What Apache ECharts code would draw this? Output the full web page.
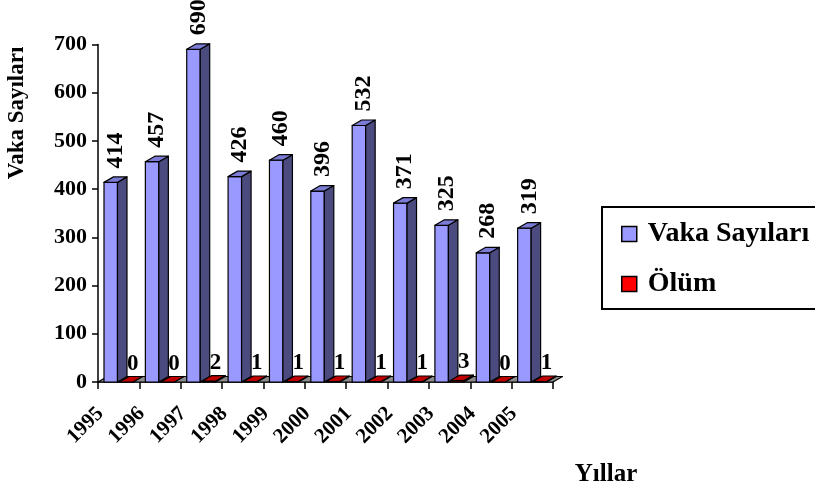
<!DOCTYPE html>
<html>
<head>
<meta charset="utf-8">
<script src="https://cdn.jsdelivr.net/npm/echarts@6/dist/echarts.min.js"></script>
<style>
  html, body { margin: 0; padding: 0; background: #ffffff; }
  #chart { width: 815px; height: 488px; }
</style>
</head>
<body>
<div id="chart"></div>
<script>
// Yearly case counts and deaths
const years = ['1995', '1996', '1997', '1998', '1999', '2000', '2001', '2002', '2003', '2004', '2005'];
const vakaSayilari = [414, 457, 690, 426, 460, 396, 532, 371, 325, 268, 319];
const olum = [0, 0, 2, 1, 1, 1, 1, 1, 3, 0, 1];
const yMax = 700;
const yStep = 100;

const FONT = '"Liberation Serif", "Times New Roman", serif';
// pseudo-3D depth offset for columns and floor (pixels)
const DX = 9.5;
const DY = -5.5;
const EDGE = { stroke: '#000000', lineWidth: 1.2, lineJoin: 'round' };

function prism(api, idx, val, startFrac, widthFrac, colors) {
  const band = api.size([1, 0])[0];
  const base = api.coord([idx, 0]);
  const top = api.coord([idx, val]);
  const x0 = base[0] - band / 2 + band * startFrac;
  const x1 = x0 + band * widthFrac;
  const yb = base[1];
  const yt = top[1];
  return {
    x0, x1, yt,
    shapes: [
      { type: 'polygon', shape: { points: [[x0, yb], [x1, yb], [x1, yt], [x0, yt]] },
        style: Object.assign({ fill: colors.front }, EDGE) },
      { type: 'polygon', shape: { points: [[x1, yb], [x1 + DX, yb + DY], [x1 + DX, yt + DY], [x1, yt]] },
        style: Object.assign({ fill: colors.side }, EDGE) },
      { type: 'polygon', shape: { points: [[x0, yt], [x1, yt], [x1 + DX, yt + DY], [x0 + DX, yt + DY]] },
        style: Object.assign({ fill: colors.top }, EDGE) }
    ]
  };
}

const chart = echarts.init(document.getElementById('chart'), null, { renderer: 'canvas' });

const option = {
  backgroundColor: '#ffffff',
  animation: false,
  textStyle: { fontFamily: FONT },
  grid: { left: 98, right: 262, top: 44.5, bottom: 106, containLabel: false },
  legend: {
    orient: 'vertical',
    left: 602,
    top: 207,
    padding: [13, 4, 11, 19],
    itemGap: 22,
    itemWidth: 15,
    itemHeight: 15,
    borderWidth: 0,
    selectedMode: false,
    textStyle: {
      fontFamily: FONT, fontSize: 28, fontWeight: 'bold', color: '#000000',
      lineHeight: 28, padding: [0, 0, 0, 6]
    },
    data: [
      { name: 'Vaka Sayıları', icon: 'rect', itemStyle: { color: '#9999FF', borderColor: '#000000', borderWidth: 1.5 } },
      { name: 'Ölüm', icon: 'rect', itemStyle: { color: '#FF0000', borderColor: '#000000', borderWidth: 1.5 } }
    ]
  },
  xAxis: {
    type: 'category',
    data: years,
    boundaryGap: true,
    axisLine: { show: true, lineStyle: { color: '#000000', width: 1.5 } },
    axisTick: { show: true, length: 7, lineStyle: { color: '#000000', width: 1.5 } },
    axisLabel: {
      interval: 0, rotate: 45, margin: 10, padding: [0, 26, 0, 0],
      fontFamily: FONT, fontSize: 21, fontWeight: 'bold', color: '#000000'
    },
    splitLine: { show: false }
  },
  yAxis: {
    type: 'value',
    min: 0,
    max: yMax,
    interval: yStep,
    axisLine: { show: true, lineStyle: { color: '#000000', width: 1.5 } },
    axisTick: { show: true, length: 6, lineStyle: { color: '#000000', width: 1.5 } },
    axisLabel: { margin: 11, fontFamily: FONT, fontSize: 22, fontWeight: 'bold', color: '#000000' },
    splitLine: { show: false }
  },
  graphic: [
    {
      // legend frame, running past the right edge of the canvas
      type: 'rect', z: 0,
      shape: { x: 602, y: 207, width: 240, height: 102 },
      style: { fill: '#ffffff', stroke: '#000000', lineWidth: 2 }
    },
    {
      type: 'text', x: 17, y: 113, rotation: Math.PI / 2,
      style: { text: 'Vaka Sayıları', font: 'bold 23px ' + FONT, fill: '#000000', align: 'center', verticalAlign: 'middle' }
    },
    {
      type: 'text', x: 606, y: 475,
      style: { text: 'Yıllar', font: 'bold 25px ' + FONT, fill: '#000000', align: 'center', verticalAlign: 'middle' }
    }
  ],
  series: [
    {
      // grey floor under the columns
      name: 'floor',
      type: 'custom',
      z: 1,
      clip: false,
      silent: true,
      data: [[0, years.length - 1]],
      renderItem: function (params, api) {
        const band = api.size([1, 0])[0];
        const a = api.coord([api.value(0), 0]);
        const b = api.coord([api.value(1), 0]);
        const xl = a[0] - band / 2;
        const xr = b[0] + band / 2;
        const y = a[1];
        return {
          type: 'polygon',
          shape: { points: [[xl, y], [xr, y], [xr + DX, y + DY], [xl + DX, y + DY]] },
          style: Object.assign({ fill: '#8C8C8C' }, EDGE)
        };
      }
    },
    {
      name: 'Vaka Sayıları',
      type: 'custom',
      z: 2,
      clip: false,
      itemStyle: { color: '#9999FF' },
      data: vakaSayilari.map((v, i) => [i, v]),
      renderItem: function (params, api) {
        const val = api.value(1);
        const p = prism(api, api.value(0), val, 0.145, 0.326,
          { front: '#9999FF', side: '#4B4B80', top: '#7C7CD6' });
        const cx = (p.x0 + p.x1) / 2 + 5;
        return {
          type: 'group',
          children: p.shapes.concat([{
            type: 'text', x: cx, y: p.yt - 32, rotation: Math.PI / 2,
            style: { text: String(val), font: 'bold 24px ' + FONT, fill: '#000000', align: 'center', verticalAlign: 'middle' }
          }])
        };
      }
    },
    {
      name: 'Ölüm',
      type: 'custom',
      z: 3,
      clip: false,
      itemStyle: { color: '#FF0000' },
      data: olum.map((v, i) => [i, v]),
      renderItem: function (params, api) {
        const val = api.value(1);
        const p = prism(api, api.value(0), val, 0.52, 0.326,
          { front: '#FF0000', side: '#800000', top: '#C00000' });
        const cx = (p.x0 + p.x1) / 2 + 6.5;
        return {
          type: 'group',
          children: p.shapes.concat([{
            type: 'text', x: cx, y: p.yt - 18,
            style: { text: String(val), font: 'bold 23px ' + FONT, fill: '#000000', align: 'center', verticalAlign: 'middle' }
          }])
        };
      }
    }
  ]
};

chart.setOption(option);
</script>
</body>
</html>
